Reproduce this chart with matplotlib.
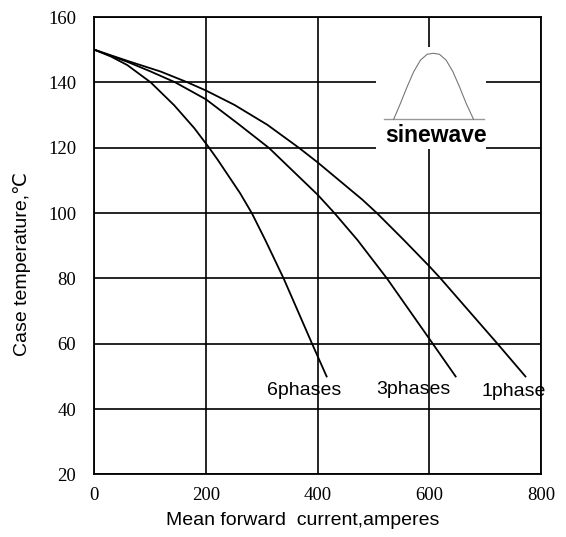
import matplotlib
matplotlib.use("Agg")
import matplotlib.pyplot as plt
from matplotlib.patches import Rectangle

# ---- data ----
phase6_x = [0, 30, 59, 101, 143, 179, 206, 221, 261, 282, 306, 339, 390, 416]
phase6_y = [150, 147.9, 145.3, 140, 133.0, 126, 119.9, 116.3, 106.1, 100, 91.8, 80, 60, 50]

phase3_x = [0, 59, 100, 145, 200, 257, 313, 400, 430, 471, 524, 600, 647]
phase3_y = [150, 146.3, 143.4, 140, 134.8, 127.4, 119.9, 105.6, 100, 91.8, 80, 61.5, 50]

phase1_x = [0, 59, 119, 167, 200, 251, 310, 367, 400, 480, 506, 554, 600, 620, 722, 772]
phase1_y = [150, 146.6, 143.3, 140, 137.5, 133.1, 127, 119.9, 115.5, 104.1, 100, 91.8, 83.7, 80, 60, 50]

curve_labels = ["6phases", "3phases", "1phase"]
label_x = [310, 505, 694]
label_y = [45.6, 46.1, 45.4]

x_ticks = [0, 200, 400, 600, 800]
y_ticks = [20, 40, 60, 80, 100, 120, 140, 160]

# sine-wave icon (hump outline, in data units)
icon_x = [536, 548, 560, 572, 584, 596, 607, 618, 630, 642, 654, 666, 679]
icon_y = [128.7, 133.5, 138.6, 143.3, 146.8, 148.6, 148.9, 148.6, 146.8, 143.3, 138.6, 133.5, 128.7]

fig = plt.figure(figsize=(5.66, 5.37), dpi=100)
ax = fig.add_axes([0.1666, 0.1164, 0.7894, 0.8519])

ax.set_xlim(0, 800)
ax.set_ylim(20, 160)
ax.set_xticks(x_ticks)
ax.set_yticks(y_ticks)
ax.set_xticklabels([str(v) for v in x_ticks], family="Liberation Serif", fontsize=13.5)
ax.set_yticklabels([str(v) for v in y_ticks], family="Liberation Serif", fontsize=13.5)
ax.tick_params(length=0)
ax.tick_params(axis="x", pad=9)
ax.tick_params(axis="y", pad=13)

ax.grid(True, color="black", lw=1.2, zorder=1)
ax.set_axisbelow(True)
for s in ax.spines.values():
    s.set_linewidth(1.3)
    s.set_color("black")

for xs, ys in [(phase6_x, phase6_y), (phase3_x, phase3_y), (phase1_x, phase1_y)]:
    ax.plot(xs, ys, color="black", lw=1.3, zorder=3, solid_joinstyle="round")

for t, lx, ly in zip(curve_labels, label_x, label_y):
    ax.text(lx, ly, t, ha="left", va="center", fontsize=14,
            family="Liberation Sans", zorder=4)

# inset icon
ax.add_patch(Rectangle((505, 119.6), 196, 31.2, facecolor="white",
                       edgecolor="none", zorder=2))
ax.plot([518, 697], [128.7, 128.7], color="#999999", lw=1.0, zorder=3)
ax.plot(icon_x, icon_y, color="#777777", lw=0.8, zorder=3)
ax.text(612, 123.6, "sinewave", ha="center", va="center", fontsize=16.5,
        fontweight="heavy", family="Liberation Sans", zorder=4)

ax.set_xlabel("Mean forward  current,amperes", family="Liberation Sans",
              fontsize=14, va="center")
ax.xaxis.set_label_coords(0.466, -0.0995)
ax.set_ylabel("Case temperature,\u2103", family=["Liberation Sans", "DejaVu Sans"],
              fontsize=14, va="center")
ax.yaxis.set_label_coords(-0.1625, 0.46)

fig.savefig("out.png", dpi=100)
